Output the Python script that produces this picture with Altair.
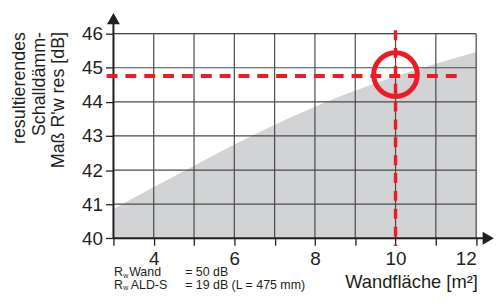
import altair as alt
import pandas as pd

# ---- data ----
wall_area = [3, 4, 5, 6, 7, 8, 9, 10, 11, 12]
r_res = [40.85, 41.5, 42.13, 42.75, 43.33, 43.86, 44.33, 44.75, 45.12, 45.46]
x_ticks = [3, 4, 5, 6, 7, 8, 9, 10, 11, 12]
y_ticks = [40, 41, 42, 43, 44, 45, 46]
sel_area = 10
sel_r = 44.76

RED = "#ec1c24"
GRAY = "#d1d3d4"
GRID = "#4a4a4a"
AX = "#231f20"
FONT = "Liberation Sans"

xs = alt.Scale(domain=[3, 12], nice=False, zero=False)
ys = alt.Scale(domain=[40, 46], nice=False, zero=False)
xaxis = alt.Axis(title=None, values=x_ticks, grid=False, domain=False,
                 tickSize=7, tickColor=AX, tickWidth=1.3,
                 labelExpr="datum.value % 2 === 0 ? datum.label : ''",
                 labelFont=FONT, labelFontSize=19, labelColor=AX, labelPadding=4)
yaxis = alt.Axis(title=None, values=y_ticks, grid=False, domain=False,
                 tickSize=8, tickColor=AX, tickWidth=1.3,
                 labelFont=FONT, labelFontSize=19, labelColor=AX, labelPadding=3)


def X(f="x"):
    return alt.X(f, type="quantitative", scale=xs, axis=xaxis)


def Y(f="y"):
    return alt.Y(f, type="quantitative", scale=ys, axis=yaxis)


area_df = pd.DataFrame({"x": wall_area, "y": r_res, "b": [40] * len(wall_area)})
area = alt.Chart(area_df).mark_area(color=GRAY, interpolate="monotone").encode(
    x=X(), y=Y(), y2="b")

vg = pd.DataFrame({"x": x_ticks[1:], "y": [40] * 9, "y2": [46] * 9})
vgrid = alt.Chart(vg).mark_rule(color=GRID, strokeWidth=1.2).encode(x=X(), y=Y(), y2="y2")
hg = pd.DataFrame({"y": y_ticks[1:], "x": [3] * 6, "x2": [12] * 6})
hgrid = alt.Chart(hg).mark_rule(color=GRID, strokeWidth=1.2).encode(y=Y(), x=X(), x2="x2")

axl = pd.DataFrame({"x": [3, 3], "y": [40, 40], "x2": [3, 12.2], "y2": [46.3, 40]})
axes = alt.Chart(axl).mark_rule(color=AX, strokeWidth=2).encode(x=X(), y=Y(), x2="x2", y2="y2")

arr = pd.DataFrame({"x": [3, 12.3], "y": [46.44, 40], "s": ["triangle-up", "triangle-right"]})
arrows = alt.Chart(arr).mark_point(filled=True, color=AX, opacity=1, size=170).encode(
    x=X(), y=Y(), shape=alt.Shape("s:N", scale=None, legend=None))

hl = pd.DataFrame({"x": [2.83], "x2": [11.6], "y": [sel_r]})
hline = alt.Chart(hl).mark_rule(color=RED, strokeWidth=4, strokeDash=[11, 8]).encode(
    x=X(), x2="x2", y=Y())
vl = pd.DataFrame({"x": [sel_area], "y": [46.1], "y2": [39.77]})
vline = alt.Chart(vl).mark_rule(color=RED, strokeWidth=3.5, strokeDash=[10, 8]).encode(
    x=X(), y=Y(), y2="y2")
cp = pd.DataFrame({"x": [sel_area], "y": [44.8]})
circle = alt.Chart(cp).mark_point(shape="circle", filled=False, color=RED, strokeWidth=5,
                                  size=1936, opacity=1).encode(x=X(), y=Y())

# annotation texts
notes = pd.DataFrame({
    "x": [3.017, 3.245, 3.39, 4.78, 3.017, 3.245, 3.43, 4.78],
    "y": [38.88, 38.84, 38.88, 38.88, 38.516, 38.476, 38.516, 38.516],
    "t": ["R", "w", "Wand", "= 50 dB", "R", "w", "ALD-S", "= 19 dB (L = 475 mm)"],
    "fs": [12.5, 7, 12.5, 12.5, 12.5, 7, 12.5, 12.5],
})
notes_l = alt.Chart(notes).mark_text(align="left", baseline="alphabetic", font=FONT,
                                     color=AX).encode(
    x=X(), y=Y(), text="t:N", size=alt.Size("fs:Q", scale=None, legend=None))

xt = pd.DataFrame({"x": [8.75], "y": [38.545], "t": ["Wandfläche [m²]"]})
xtitle = alt.Chart(xt).mark_text(align="left", baseline="alphabetic", font=FONT,
                                 fontSize=18.5, color=AX).encode(x=X(), y=Y(), text="t:N")

yt = pd.DataFrame({"x": [0.80], "y": [46.05]})
ytitle = alt.Chart(yt).mark_text(
    text=["resultierendes", "Schalldämm-", "Maß R'w res [dB]"],
    angle=270, align="right", baseline="alphabetic", font=FONT, fontSize=18,
    lineHeight=20, color=AX).encode(x=X(), y=Y())

chart = alt.layer(area, vgrid, hgrid, axes, arrows, hline, vline, circle,
                  notes_l, xtitle, ytitle).properties(
    width=365.7, height=206.3,
    autosize=alt.AutoSizeParams(type="none"),
    padding={"left": 106.3, "top": 24.7, "right": 18, "bottom": 54},
).configure_view(stroke=None).configure(background="white")

chart.save("out.html", embed_options={"renderer": "svg", "actions": False})
